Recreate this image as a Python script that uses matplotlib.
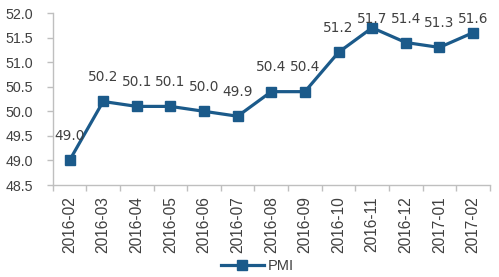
import matplotlib
matplotlib.use("Agg")
import matplotlib.pyplot as plt

months = ["2016-02", "2016-03", "2016-04", "2016-05", "2016-06", "2016-07",
          "2016-08", "2016-09", "2016-10", "2016-11", "2016-12", "2017-01", "2017-02"]
pmi = [49.0, 50.2, 50.1, 50.1, 50.0, 49.9, 50.4, 50.4, 51.2, 51.7, 51.4, 51.3, 51.6]
yticks = [48.5, 49.0, 49.5, 50.0, 50.5, 51.0, 51.5, 52.0]

line_color = "#1b5a8a"
axis_color = "#bfbfbf"
text_color = "#404040"

fig = plt.figure(figsize=(4.99, 2.77), dpi=100)
ax = fig.add_axes([0.1056, 0.332, 0.876, 0.621])

x = list(range(len(months)))
ax.plot(x, pmi, color=line_color, linewidth=2.3, marker="s", markersize=6.5,
        label="PMI", zorder=3)

for xi, v in zip(x, pmi):
    ax.text(xi, min(v + 0.5, 51.88), f"{v:.1f}", ha="center", va="center",
            fontsize=9.8, color=text_color, family="DejaVu Sans")

ax.set_xlim(-0.5, len(months) - 0.5)
ax.set_ylim(48.5, 52.0)
ax.set_yticks(yticks)
ax.set_yticklabels([f"{t:.1f}" for t in yticks], family="Liberation Sans",
                   fontsize=10.3, color=text_color)
ax.set_xticks(x)
ax.set_xticklabels(months, rotation=90, family="Liberation Sans",
                   fontsize=11.2, color=text_color)
ax.set_xticks([i - 0.5 for i in range(len(months) + 1)], minor=True)
ax.tick_params(axis="x", which="major", length=0, pad=8)
ax.tick_params(axis="x", which="minor", length=4, color=axis_color, width=1)
ax.tick_params(axis="y", length=4, color=axis_color, width=1, pad=10)

for side in ["top", "right"]:
    ax.spines[side].set_visible(False)
for side in ["left", "bottom"]:
    ax.spines[side].set_color(axis_color)
    ax.spines[side].set_linewidth(1)

leg = fig.legend(loc="center", bbox_to_anchor=(0.515, 0.04), frameon=False,
                 prop={"family": "Liberation Sans", "size": 10.5},
                 handlelength=3.0, handletextpad=0.2, labelcolor=text_color)

fig.savefig("out.png", dpi=100)
